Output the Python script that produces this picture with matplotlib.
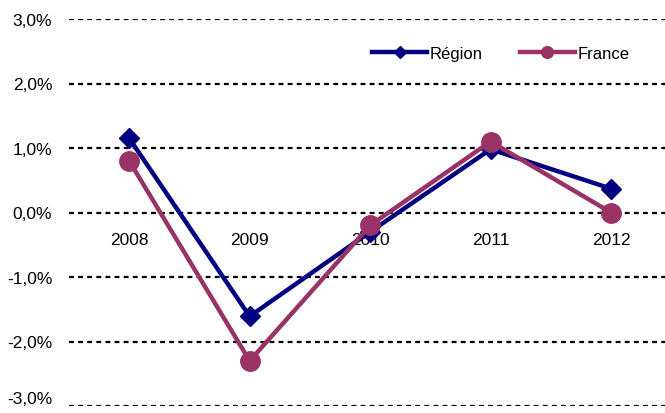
import matplotlib.pyplot as plt
from matplotlib.ticker import FuncFormatter

plt.rcParams['font.family'] = ['Liberation Sans', 'DejaVu Sans']

years = ['2008', '2009', '2010', '2011', '2012']
region = [1.15, -1.61, -0.30, 0.98, 0.37]
france = [0.80, -2.30, -0.20, 1.10, 0.00]

fig = plt.figure(figsize=(6.65, 4.14), dpi=100)
ax = fig.add_axes([69 / 665, 7 / 414, (665 - 69) / 665, 387 / 414])

x = range(len(years))
ax.plot(x, region, color='#000080', lw=3.2, marker='D', ms=10, label='Région', zorder=3)
ax.plot(x, france, color='#993366', lw=3.2, marker='o', ms=14, label='France', zorder=4)

ax.set_ylim(-3, 3)
ax.set_xlim(-0.5, (665 - 129) / 120.5)
ax.set_yticks([-3, -2, -1, 0, 1, 2, 3])
ax.yaxis.set_major_formatter(FuncFormatter(lambda v, p: f'{v:.1f}%'.replace('.', ',')))
ax.grid(axis='y', color='black', lw=1.6, linestyle=(0, (2.2, 1.9)), zorder=1)
ax.set_axisbelow(True)

for s in ax.spines.values():
    s.set_visible(False)
ax.tick_params(axis='y', length=0, pad=12, labelsize=12.5)
# keep the bottom label inside the picture
ax.get_yticklabels()[0].set_va('bottom')

# year labels sit just under the zero line
ax.set_xticks([])
for i, yr in enumerate(years):
    ax.text(i, -0.42, yr, ha='center', va='center', fontsize=12.5, zorder=2)

ax.legend(loc='upper right', bbox_to_anchor=(0.965, 0.97), ncol=2, frameon=False,
          fontsize=12, handlelength=3.3, columnspacing=2.2, handletextpad=0.15,
          markerscale=0.6)

fig.savefig('out.png', dpi=100)
